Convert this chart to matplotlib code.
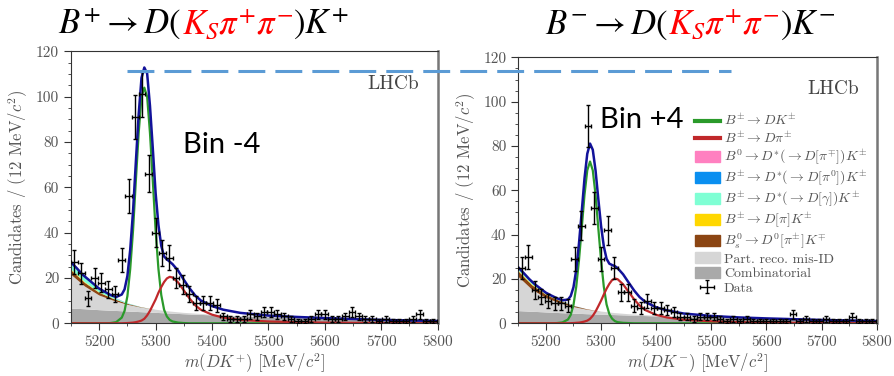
import numpy as np
import matplotlib
matplotlib.use("Agg")
import matplotlib.pyplot as plt
from matplotlib.lines import Line2D
from matplotlib.patches import Patch
from matplotlib.offsetbox import TextArea, HPacker, AnchoredOffsetbox
from matplotlib.ticker import MultipleLocator

plt.rcParams["mathtext.fontset"] = "cm"
plt.rcParams["font.family"] = ["cmr10", "DejaVu Serif"]
plt.rcParams["axes.formatter.use_mathtext"] = False

# 12 MeV bins between 5150 and 5800
bin_centres = np.arange(5156, 5800, 12)

counts_plus = [27, 22, 11, 20, 18, 15, 13, 28, 56, 91, 101, 66, 40, 31, 29, 20, 17, 13,
               9, 9, 9, 8, 3, 2, 2, 2, 4, 3, 5, 5, 4, 3, 2, 1, 1, 2, 4, 4,
               2, 2, 3, 5, 3, 2, 2, 1, 2, 1, 1, 1, 2, 4, 1, 1]
counts_minus = [25, 30, 15, 12, 10, 9, 9, 8, 29, 44, 89, 52, 29, 42, 25, 14, 14, 8,
                7, 10, 7, 7, 6, 5, 3, 3, 2, 3, 3, 3, 2, 1, 2, 1, 2, 1, 1, 1,
                1, 1, 1, 4, 1, 2, 1, 1, 2, 1, 1, 1, 3, 1, 1, 1]

# fit curves
m_fine = [5150, 5160, 5170, 5180, 5190, 5200, 5210, 5220, 5230, 5240, 5245, 5250, 5255,
          5260, 5265, 5270, 5275, 5280, 5285, 5290, 5295, 5300, 5305, 5310, 5315, 5320,
          5325, 5330, 5340, 5350, 5360, 5370, 5380, 5400, 5420, 5450, 5500, 5550, 5600,
          5650, 5700, 5750, 5800]

dk_plus = [0, 0, 0, 0, 0, 0, 0, 0.1, 0.5, 2.5, 5.5, 12, 24,
           41, 63, 84, 100, 104, 100, 84, 63, 41, 24, 12.5, 6, 3,
           1.5, 0.8, 0.3, 0.1, 0, 0, 0, 0, 0, 0, 0, 0, 0,
           0, 0, 0, 0]
dpi_plus = [0, 0, 0, 0, 0, 0, 0, 0, 0, 0, 0.05, 0.1, 0.2,
            0.3, 0.5, 0.8, 1.2, 2, 3.5, 5.5, 8, 10.5, 13.5, 16, 18.2, 19.8,
            20.5, 20.2, 18, 14.5, 11, 8, 6, 3.8, 2.5, 1.5, 0.8, 0.5, 0.3,
            0.2, 0.1, 0.05, 0]
total_plus = [26.9, 24.4, 21.6, 19.5, 17.4, 15.3, 13.9, 12.5, 11.6, 12.7, 15.0, 20.9, 32.5,
              49.5, 71.3, 92.3, 108.3, 112.9, 110.2, 96.0, 77.2, 57.5, 43.4, 34.2, 29.5, 28.2,
              27.2, 26.1, 23.2, 19.2, 15.5, 12.3, 10.1, 7.6, 6.0, 4.6, 3.4, 2.8, 2.3,
              1.9, 1.5, 1.25, 1.0]

dk_minus = [0, 0, 0, 0, 0, 0, 0, 0.1, 0.4, 1.7, 3.8, 8.3, 16.5,
            28.5, 43, 58, 69, 73, 69, 58, 43, 28.5, 16.5, 8.5, 4.2, 2.1,
            1.0, 0.5, 0.2, 0.1, 0, 0, 0, 0, 0, 0, 0, 0, 0,
            0, 0, 0, 0]
dpi_minus = [0, 0, 0, 0, 0, 0, 0, 0, 0, 0, 0.05, 0.1, 0.2,
             0.3, 0.5, 0.8, 1.2, 2, 3.4, 5.3, 7.7, 10.2, 13, 15.6, 17.8, 19.5,
             20.2, 19.9, 17.6, 14.2, 10.8, 8, 6, 3.8, 2.6, 1.6, 0.9, 0.5, 0.3,
             0.2, 0.1, 0.05, 0]
total_minus = [25.2, 22.6, 19.9, 17.6, 15.7, 13.8, 12.5, 11.3, 10.4, 10.7, 12.3, 16.3, 24.1,
               36.1, 50.5, 65.4, 76.5, 81.1, 78.3, 69.0, 56.2, 44.0, 34.7, 29.1, 26.9, 26.3,
               25.8, 24.9, 22.1, 18.4, 14.8, 11.8, 9.7, 7.2, 5.8, 4.4, 3.3, 2.65, 2.2,
               1.85, 1.5, 1.25, 1.0]

# stacked background components
m_bkg = [5150, 5175, 5200, 5225, 5250, 5275, 5300, 5325, 5350, 5400, 5450, 5500, 5600, 5700, 5800]

comb_plus = [6.5, 6.2, 5.8, 5.5, 5.2, 4.9, 4.6, 4.3, 4.0, 3.5, 3.0, 2.6, 2.0, 1.4, 1.0]
misid_plus = [15, 10, 6.5, 4.5, 3.0, 2.0, 1.4, 0.9, 0.6, 0.3, 0.1, 0, 0, 0, 0]
bs_plus = [2.0, 1.6, 1.2, 0.8, 0.4, 0.15, 0, 0, 0, 0, 0, 0, 0, 0, 0]
dpik_plus = [0.4, 0.3, 0.2, 0.1, 0, 0, 0, 0, 0, 0, 0, 0, 0, 0, 0]
dgam_plus = [2.5, 2.0, 1.3, 0.6, 0.2, 0.05, 0, 0, 0, 0, 0, 0, 0, 0, 0]
dpi0_plus = [0.3, 0.3, 0.2, 0.1, 0.05, 0, 0, 0, 0, 0, 0, 0, 0, 0, 0]
b0_plus = [0.2, 0.2, 0.1, 0.05, 0, 0, 0, 0, 0, 0, 0, 0, 0, 0, 0]

comb_minus = [5.5, 5.2, 4.9, 4.6, 4.35, 4.1, 3.9, 3.7, 3.5, 3.1, 2.7, 2.4, 1.9, 1.4, 1.0]
misid_minus = [15.5, 10, 6.5, 4.5, 3.0, 2.0, 1.4, 0.9, 0.6, 0.3, 0.1, 0, 0, 0, 0]
bs_minus = [2.5, 2.0, 1.5, 1.0, 0.5, 0.2, 0, 0, 0, 0, 0, 0, 0, 0, 0]
dpik_minus = [0.4, 0.3, 0.2, 0.1, 0, 0, 0, 0, 0, 0, 0, 0, 0, 0, 0]
dgam_minus = [0.8, 0.6, 0.4, 0.2, 0.05, 0, 0, 0, 0, 0, 0, 0, 0, 0, 0]
dpi0_minus = [0.3, 0.3, 0.2, 0.1, 0.05, 0, 0, 0, 0, 0, 0, 0, 0, 0, 0]
b0_minus = [0.2, 0.2, 0.1, 0.05, 0, 0, 0, 0, 0, 0, 0, 0, 0, 0, 0]

C_DK = "#2a9a2a"
C_DPI = "#c0282a"
C_TOTAL = "#12129a"
BKG_COLOURS = ["#a9a9a9", "#d6d6d6", "#8b4513", "#ffd700", "#7fffd4", "#0a8ff0", "#ff80c0"]
TEXT_GREY = "#555555"

legend_labels = [
    r"$B^{\pm}\rightarrow DK^{\pm}$",
    r"$B^{\pm}\rightarrow D\pi^{\pm}$",
    r"$B^{0}\rightarrow D^{*}(\rightarrow D[\pi^{\mp}])K^{\pm}$",
    r"$B^{\pm}\rightarrow D^{*}(\rightarrow D[\pi^{0}])K^{\pm}$",
    r"$B^{\pm}\rightarrow D^{*}(\rightarrow D[\gamma])K^{\pm}$",
    r"$B^{\pm}\rightarrow D[\pi]K^{\pm}$",
    r"$B^{0}_{s}\rightarrow D^{0}[\pi^{\pm}]K^{\mp}$",
    "Part. reco. mis-ID",
    "Combinatorial",
    "Data",
]


def draw_panel(ax, counts, dk, dpi, total, bkg, xlabel):
    ax.stackplot(m_bkg, *bkg, colors=BKG_COLOURS, linewidth=0)
    ax.plot(m_fine, dk, color=C_DK, lw=1.6)
    ax.plot(m_fine, dpi, color=C_DPI, lw=1.6)
    ax.plot(m_fine, total, color=C_TOTAL, lw=1.8)
    counts = np.array(counts, dtype=float)
    data = ax.errorbar(bin_centres, counts, yerr=np.sqrt(counts), xerr=6, fmt="none",
                       ecolor="black", elinewidth=1.0, capsize=1.5, zorder=5)

    ax.set_xlim(5150, 5800)
    ax.set_ylim(0, 120)
    ax.xaxis.set_major_locator(MultipleLocator(100))
    ax.xaxis.set_minor_locator(MultipleLocator(50))
    ax.yaxis.set_major_locator(MultipleLocator(20))
    ax.yaxis.set_minor_locator(MultipleLocator(5))
    ax.tick_params(which="both", direction="out", top=False, right=False,
                   labelsize=11, labelcolor=TEXT_GREY, color="#333333")
    ax.tick_params(which="major", length=5)
    ax.tick_params(which="minor", length=2.5)
    for side in ["left", "bottom", "top"]:
        ax.spines[side].set_color("#333333")
        ax.spines[side].set_linewidth(0.8)
    ax.spines["right"].set_color("#777777")
    ax.spines["right"].set_linewidth(1.8)

    ax.set_xlabel(xlabel, fontsize=12, color=TEXT_GREY, labelpad=2)
    ax.set_ylabel(r"Candidates / (12 MeV/$c^{2}$)", fontsize=12, color=TEXT_GREY, labelpad=4)
    ax.text(0.95, 0.88, "LHCb", transform=ax.transAxes, ha="right", va="center",
            fontsize=14, color="#444444")
    return data


fig = plt.figure(figsize=(8.94, 3.76), dpi=100)
ax1 = fig.add_axes([0.0794, 0.1402, 0.4102, 0.7231])
ax2 = fig.add_axes([0.5798, 0.1402, 0.4009, 0.7072])

draw_panel(ax1, counts_plus, dk_plus, dpi_plus, total_plus,
           [comb_plus, misid_plus, bs_plus, dpik_plus, dgam_plus, dpi0_plus, b0_plus],
           r"$m(DK^{+})$ [MeV/$c^{2}$]")
data_handle = draw_panel(ax2, counts_minus, dk_minus, dpi_minus, total_minus,
                         [comb_minus, misid_minus, bs_minus, dpik_minus, dgam_minus,
                          dpi0_minus, b0_minus],
                         r"$m(DK^{-})$ [MeV/$c^{2}$]")

handles = [Line2D([], [], color=C_DK, lw=3), Line2D([], [], color=C_DPI, lw=3),
           Patch(color=BKG_COLOURS[6]), Patch(color=BKG_COLOURS[5]), Patch(color=BKG_COLOURS[4]),
           Patch(color=BKG_COLOURS[3]), Patch(color=BKG_COLOURS[2]), Patch(color=BKG_COLOURS[1]),
           Patch(color=BKG_COLOURS[0]), data_handle]
ax2.legend(handles, legend_labels, loc="upper left", bbox_to_anchor=(0.477, 0.812),
           frameon=False, fontsize=10, labelcolor=TEXT_GREY, handlelength=1.8,
           handleheight=0.8, labelspacing=0.1, borderaxespad=0, handletextpad=0.3)

ax1.text(0.41, 0.655, "Bin -4", transform=ax1.transAxes, ha="center", va="center",
         fontsize=21, family="Lato", color="black")
ax2.text(0.345, 0.765, "Bin +4", transform=ax2.transAxes, ha="center", va="center",
         fontsize=21, family="Lato", color="black")


def title(parts, x, y):
    boxes = [TextArea(t, textprops=dict(color=c, fontsize=25, math_fontfamily="stix"))
             for t, c in parts]
    pack = HPacker(children=boxes, align="baseline", pad=0, sep=0)
    box = AnchoredOffsetbox(loc="center", child=pack, frameon=False, pad=0,
                            bbox_to_anchor=(x, y), bbox_transform=fig.transFigure,
                            borderpad=0)
    fig.add_artist(box)


title([(r"$B^{+}\rightarrow D($", "black"), (r"$K_{S}\pi^{+}\pi^{-}$", "red"),
       (r"$)K^{+}$", "black")], 0.228, 0.935)
title([(r"$B^{-}\rightarrow D($", "black"), (r"$K_{S}\pi^{+}\pi^{-}$", "red"),
       (r"$)K^{-}$", "black")], 0.772, 0.935)

fig.add_artist(Line2D([0.142, 0.818], [0.812, 0.812], transform=fig.transFigure,
                      color="#5b9bd5", lw=2.2, linestyle=(0, (8.8, 3.3)), zorder=10))

fig.savefig("out.png", dpi=100)
